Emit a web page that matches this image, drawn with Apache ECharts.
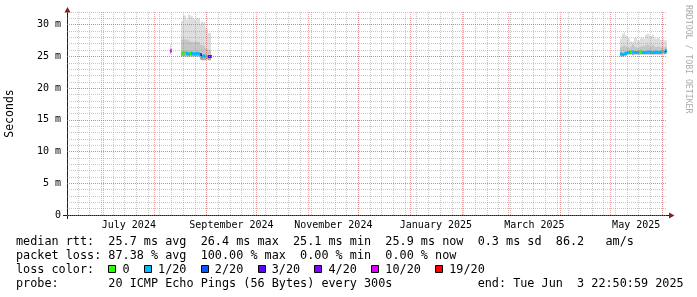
<!DOCTYPE html>
<html><head><meta charset="utf-8">
<script src="https://cdn.jsdelivr.net/npm/echarts@6/dist/echarts.min.js"></script>
<style>html,body{margin:0;padding:0;background:#fff}#c{width:697px;height:297px}</style>
</head><body><div id="c"></div>
<script>
// ---------------- data ----------------
const graphEnd = '2025-06-03T22:50:59Z';
const spanDays = 359.5;
const xTickMonths = ['2024-07', '2024-09', '2024-11', '2025-01', '2025-03', '2025-05'];
const xTickLabels = ['July 2024', 'September 2024', 'November 2024', 'January 2025', 'March 2025', 'May 2025'];
const yTickValues = [0, 5, 10, 15, 20, 25, 30];
const yTickLabels = ['0', '5 m', '10 m', '15 m', '20 m', '25 m', '30 m'];

// one sample per day (value covers the whole day)
const sampleDays = [
  '2024-08-10',
  '2024-08-17','2024-08-18','2024-08-19','2024-08-20','2024-08-21','2024-08-22','2024-08-23','2024-08-24','2024-08-25',
  '2024-08-26','2024-08-27','2024-08-28','2024-08-29','2024-08-30','2024-08-31','2024-09-01','2024-09-02','2024-09-03',
  '2025-05-07','2025-05-08','2025-05-09','2025-05-10','2025-05-11','2025-05-12','2025-05-13','2025-05-14','2025-05-15',
  '2025-05-16','2025-05-17','2025-05-18','2025-05-19','2025-05-20','2025-05-21','2025-05-22','2025-05-23','2025-05-24',
  '2025-05-25','2025-05-26','2025-05-27','2025-05-28','2025-05-29','2025-05-30','2025-05-31','2025-06-01','2025-06-02','2025-06-03'
];
const medianRtt = [
  25.9,
  25.5,25.6,25.5,25.5,25.4,25.5,25.5,25.4,25.4,25.5,25.4,25.3,25.0,25.1,25.0,25.0,25.0,25.0,
  25.4,25.3,25.4,25.5,25.6,25.6,25.7,25.7,25.6,25.6,25.6,25.7,25.7,25.6,25.6,25.6,25.7,25.7,
  25.6,25.6,25.6,25.7,25.6,25.6,25.7,25.8,25.7,25.9
];
const lossCount = [
  10,
  0,0,0,1,1,0,1,1,1,1,1,2,1,1,0,0,3,4,
  1,1,1,1,1,1,0,1,1,1,1,0,0,1,1,1,1,1,
  1,1,1,1,1,1,1,0,1,1
];
const smokeLow = [
  25.4,
  25.0,25.0,25.1,25.0,25.0,25.0,25.0,25.0,25.0,25.0,25.0,24.5,24.4,24.4,24.4,24.5,24.4,24.4,
  25.0,25.0,25.1,25.1,25.3,25.3,25.3,25.2,25.3,25.3,25.3,25.3,25.3,25.3,25.3,25.3,25.3,25.3,
  25.3,25.3,25.3,25.3,25.3,25.3,25.3,25.4,25.3,25.4
];
const smokeMid = [
  26.2,
  27.7,27.8,27.6,27.7,27.5,27.4,27.4,27.3,27.4,27.4,27.3,26.9,26.8,26.7,26.4,26.2,26.1,26.0,
  26.5,26.7,26.8,26.6,26.5,26.4,26.6,26.9,26.6,26.5,26.4,26.5,26.6,26.7,26.6,26.8,26.9,26.7,
  26.7,26.8,26.6,26.5,26.6,26.5,26.5,26.6,26.5,26.5
];
const smokeHigh = [
  26.9,
  30.6,31.5,31.4,30.8,31.6,31.5,31.3,30.9,30.6,31.1,31.0,30.2,30.5,30.4,29.6,29.4,28.7,28.7,
  27.8,28.6,28.9,28.3,27.9,27.8,27.4,27.3,27.9,28.0,27.5,27.5,27.9,28.0,27.8,28.4,28.6,28.3,
  28.2,28.4,28.0,27.8,27.9,27.8,27.6,27.7,27.6,27.5
];

const lossLevels = [0, 1, 2, 3, 4, 10, 19];
const lossLabels = ['0', '1/20', '2/20', '3/20', '4/20', '10/20', '19/20'];
const lossColors = ['#26ff00', '#00b8ff', '#0059ff', '#5e00ff', '#7e00ff', '#dd00ff', '#ff0000'];

const medianStats = ['25.7 ms avg', '26.4 ms max', '25.1 ms min', '25.9 ms now', '0.3 ms sd', '86.2   am/s'];
const lossStats = ['87.38 % avg', '100.00 % max', '0.00 % min', '0.00 % now'];
const probeText = '20 ICMP Echo Pings (56 Bytes) every 300s';
const endText = 'end: Tue Jun  3 22:50:59 2025';

// ---------------- build ----------------
const DAY = 86400000;
const endTime = Date.parse(graphEnd);
const startTime = endTime - spanDays * DAY;
function dayStart(s) { const p = s.split('-').map(Number); return Date.UTC(p[0], p[1] - 1, p[2]); }

const weekLines = [];
for (let t = Date.UTC(2024, 5, 9); t <= endTime; t += 7 * DAY) if (t >= startTime) weekLines.push(t);
const monthLines = [];
for (let y = 2024, m = 5; ; ) { const t = Date.UTC(y, m, 1); if (t > endTime) break; if (t >= startTime) monthLines.push(t); m++; if (m > 11) { m = 0; y++; } }
const labelPos = xTickMonths.map(s => { const p = s.split('-').map(Number); return (Date.UTC(p[0], p[1] - 1, 1) + Date.UTC(p[0], p[1], 1)) / 2; });

function lossColor(l) { let c = lossColors[0]; lossLevels.forEach((lv, i) => { if (l >= lv) c = lossColors[i]; }); return c; }

const smokeData = [], medData = [];
sampleDays.forEach((d, i) => {
  const t0 = dayStart(d), t1 = Math.min(t0 + DAY, endTime);
  smokeData.push([t0, t1, smokeLow[i], medianRtt[i], smokeMid[i], smokeHigh[i]]);
  const prevContig = i > 0 && dayStart(sampleDays[i - 1]) + DAY === t0;
  medData.push([t0, t1, medianRtt[i], lossCount[i], prevContig ? medianRtt[i - 1] : NaN]);
});

const minorLine = { color: 'rgba(143,143,143,0.5)', width: 1, type: [1, 1] };
const majorLine = { color: 'rgba(222,79,79,0.5)', width: 1, type: [1, 1] };
const MONO = '"DejaVu Sans Mono", monospace';

const GL = 67, GT = 12, GW = 600, GH = 203;

const FS = 11.8, CW = FS * 0.60205, TX = 16;
const line1 = 'median rtt:  ' + medianStats.join('  ');
const line2 = 'packet loss: ' + lossStats.join('  ');
let line3 = 'loss color:  ';
const boxIdx = [];
lossLabels.forEach((lb, i) => { if (i > 0) line3 += '  '; boxIdx.push(line3.length); line3 += '  ' + lb; });
let line4 = 'probe:       ' + probeText;
while (line4.length < 65) line4 += ' ';
line4 += endText;

const graphics = [];
[line1, line2, line3, line4].forEach((s, i) => {
  graphics.push({ type: 'text', x: TX, y: 241.5 + i * 14, silent: true,
    style: { text: s, font: FS + 'px ' + MONO, fill: '#000', textVerticalAlign: 'middle', textAlign: 'left' } });
});
boxIdx.forEach((ci, i) => {
  graphics.push({ type: 'rect', silent: true, shape: { x: Math.round(TX + ci * CW) + 0.5, y: 265.5, width: 7, height: 7 },
    style: { fill: lossColors[i], stroke: '#000', lineWidth: 1 } });
});
graphics.push({ type: 'line', silent: true, shape: { x1: 63, y1: 215.5, x2: 671, y2: 215.5 }, style: { stroke: '#1f1f1f', lineWidth: 1 } });
graphics.push({ type: 'line', silent: true, shape: { x1: 67.5, y1: 219, x2: 67.5, y2: 9 }, style: { stroke: '#1f1f1f', lineWidth: 1 } });
graphics.push({ type: 'polygon', silent: true, shape: { points: [[64.5, 12.5], [70.5, 12.5], [67.5, 7]] }, style: { fill: '#801f1f' } });
graphics.push({ type: 'polygon', silent: true, shape: { points: [[669, 212.5], [669, 218.5], [674.5, 215.5]] }, style: { fill: '#801f1f' } });
graphics.push({ type: 'text', silent: true, x: 10, y: 113.5, rotation: Math.PI / 2,
  style: { text: 'Seconds', font: '11.5px ' + MONO, fill: '#000', textAlign: 'center', textVerticalAlign: 'middle' } });
graphics.push({ type: 'text', silent: true, x: 688, y: 5, rotation: -Math.PI / 2,
  style: { text: 'RRDTOOL / TOBI OETIKER', font: '8.2px ' + MONO, fill: '#ababab', textAlign: 'left', textVerticalAlign: 'middle' } });

const chart = echarts.init(document.getElementById('c'), null, { renderer: 'canvas' });
chart.setOption({
  animation: false,
  backgroundColor: '#ffffff',
  grid: { left: GL, top: GT, width: GW, height: GH, outerBoundsMode: 'none', containLabel: false },
  xAxis: [
    { type: 'value', min: startTime, max: endTime, position: 'bottom', offset: 0,
      axisLine: { show: false }, axisTick: { show: false, customValues: weekLines }, axisLabel: { show: false },
      splitLine: { show: true, lineStyle: minorLine } },
    { type: 'value', min: startTime, max: endTime, position: 'bottom', offset: 0,
      axisLine: { show: false }, axisTick: { show: false, customValues: monthLines }, axisLabel: { show: false },
      splitLine: { show: true, lineStyle: majorLine } },
    { type: 'value', min: startTime, max: endTime, position: 'bottom', offset: 0,
      axisLine: { show: false }, axisTick: { show: false, customValues: labelPos },
      axisLabel: { show: true, customValues: labelPos, margin: 5, color: '#000', fontFamily: MONO, fontSize: 10,
        formatter: v => { let k = 0, best = Infinity; labelPos.forEach((p, i) => { if (Math.abs(p - v) < best) { best = Math.abs(p - v); k = i; } }); return xTickLabels[k]; } },
      splitLine: { show: false } }
  ],
  yAxis: [
    { type: 'value', min: 0, max: 32, interval: 1, position: 'left',
      axisLine: { show: false }, axisTick: { show: false }, axisLabel: { show: false },
      splitLine: { show: true, lineStyle: minorLine } },
    { type: 'value', min: 0, max: 32, position: 'left',
      axisLine: { show: false }, axisTick: { show: false, customValues: yTickValues },
      axisLabel: { show: true, customValues: yTickValues, margin: 6, color: '#000', fontFamily: MONO, fontSize: 10,
        formatter: v => { const i = yTickValues.indexOf(Math.round(v)); return i >= 0 ? yTickLabels[i] : ''; } },
      splitLine: { show: true, lineStyle: majorLine } }
  ],
  series: [
    { type: 'custom', name: 'smoke', xAxisIndex: 0, yAxisIndex: 0, z: -2, silent: true,
      encode: { x: [0, 1], y: [2, 3, 4, 5] },
      data: smokeData,
      renderItem: (params, api) => {
        const xa = Math.round(api.coord([api.value(0), 0])[0]);
        const xb = Math.round(api.coord([api.value(1), 0])[0]);
        const w = Math.max(1, xb - xa);
        const yLo = api.coord([api.value(0), api.value(2)])[1];
        const yMed = api.coord([api.value(0), api.value(3)])[1];
        const yMid = api.coord([api.value(0), api.value(4)])[1];
        const yHi = api.coord([api.value(0), api.value(5)])[1];
        return { type: 'group', children: [
          { type: 'rect', shape: { x: xa, y: yHi, width: w, height: yMid - yHi }, style: { fill: '#dedede' } },
          { type: 'rect', shape: { x: xa, y: yMid, width: w, height: yMed - yMid }, style: { fill: '#c6c6c6' } },
          { type: 'rect', shape: { x: xa, y: yMed, width: w, height: yLo - yMed }, style: { fill: '#a8a8a8' } }
        ] };
      } },
    { type: 'custom', name: 'median', xAxisIndex: 0, yAxisIndex: 0, z: -1, silent: true,
      encode: { x: [0, 1], y: [2] },
      data: medData,
      renderItem: (params, api) => {
        const xa = Math.round(api.coord([api.value(0), 0])[0]);
        const xb = Math.round(api.coord([api.value(1), 0])[0]);
        const w = Math.max(2, xb - xa);
        const y = api.coord([api.value(0), api.value(2)])[1];
        const ch = [{ type: 'rect', shape: { x: xa, y: y - 1.5, width: w, height: 3 }, style: { fill: lossColor(api.value(3)) } }];
        const pv = api.value(4);
        if (!isNaN(pv)) {
          const yp = api.coord([api.value(0), pv])[1];
          if (Math.abs(yp - y) > 1) ch.push({ type: 'line', shape: { x1: xa + 0.5, y1: yp, x2: xa + 0.5, y2: y }, style: { stroke: '#202020', lineWidth: 1 } });
        }
        return { type: 'group', children: ch };
      } }
  ],
  graphic: graphics
});
</script>
</body></html>
